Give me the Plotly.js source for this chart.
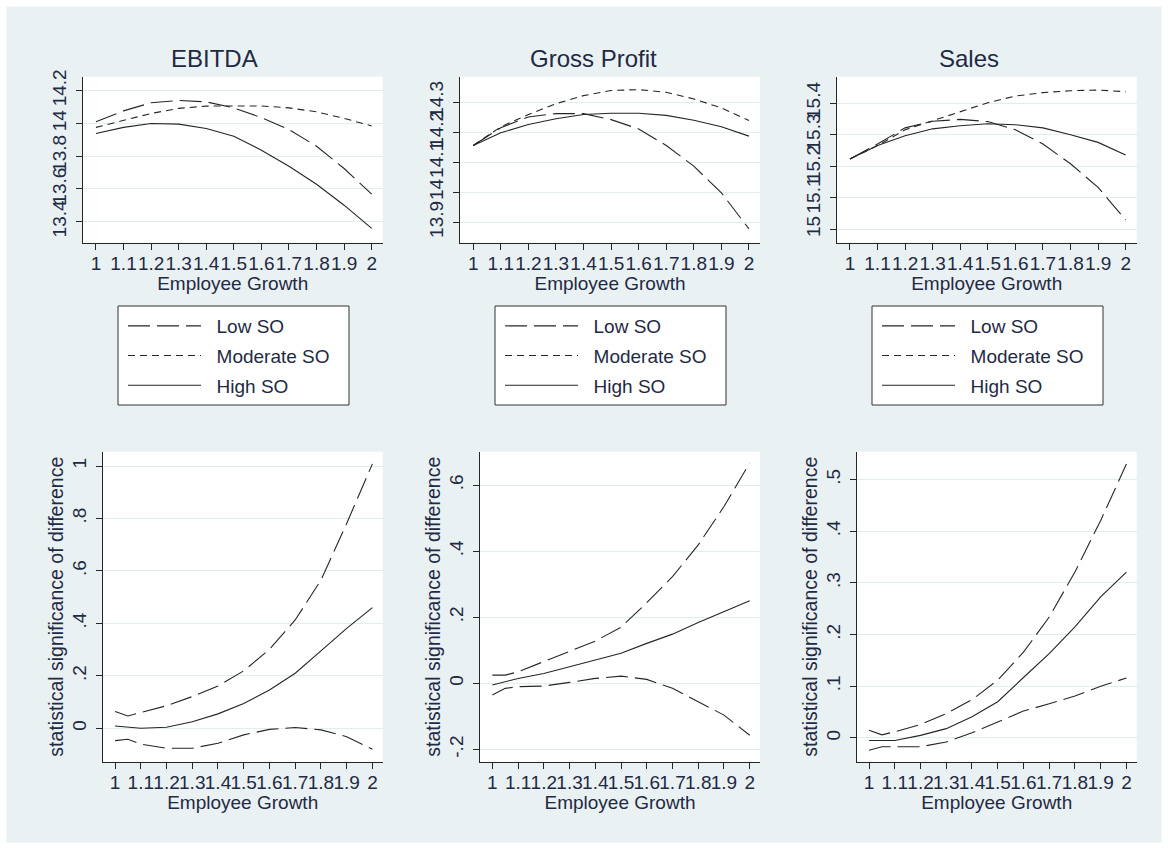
<!DOCTYPE html>
<html>
<head>
<meta charset="utf-8">
<script src="https://cdn.plot.ly/plotly-3.0.1.min.js"></script>
<style>html,body{margin:0;padding:0;background:#fff;}#chart{width:1168px;height:849px;}</style>
</head>
<body>
<div id="chart"></div>
<script>
// ---------- data ----------
const panelTitles = ["EBITDA", "Gross Profit", "Sales"];
const seriesNames = ["Low SO", "Moderate SO", "High SO"];
const xTitle = "Employee Growth";
const yTitleBottom = "statistical significance of difference";

const xTop = [1, 1.1, 1.2, 1.3, 1.4, 1.5, 1.6, 1.7, 1.8, 1.9, 2];
const xTickVals = [1, 1.1, 1.2, 1.3, 1.4, 1.5, 1.6, 1.7, 1.8, 1.9, 2];
const xTickText = ["1", "1.1", "1.2", "1.3", "1.4", "1.5", "1.6", "1.7", "1.8", "1.9", "2"];

// EBITDA (top)
const ebitdaLow  = [14.010, 14.077, 14.126, 14.140, 14.132, 14.095, 14.036, 13.963, 13.861, 13.725, 13.568];
const ebitdaMod  = [13.976, 14.020, 14.061, 14.092, 14.106, 14.107, 14.107, 14.095, 14.071, 14.031, 13.985];
const ebitdaHigh = [13.939, 13.976, 14.000, 13.996, 13.969, 13.922, 13.837, 13.739, 13.629, 13.501, 13.359];
const ebitdaTicks = [13.4, 13.6, 13.8, 14, 14.2];
const ebitdaTickText = ["13.4", "13.6", "13.8", "14", "14.2"];

// Gross Profit (top)
const gpLow  = [14.156, 14.215, 14.251, 14.262, 14.262, 14.242, 14.211, 14.156, 14.087, 13.998, 13.878];
const gpMod  = [14.156, 14.218, 14.259, 14.295, 14.322, 14.339, 14.342, 14.333, 14.311, 14.281, 14.239];
const gpHigh = [14.156, 14.198, 14.226, 14.245, 14.259, 14.263, 14.263, 14.256, 14.240, 14.218, 14.187];
const gpTicks = [13.9, 14, 14.1, 14.2, 14.3];
const gpTickText = ["13.9", "14", "14.1", "14.2", "14.3"];

// Sales (top)
const salesLow  = [15.223, 15.271, 15.322, 15.343, 15.349, 15.342, 15.316, 15.271, 15.208, 15.133, 15.030];
const salesMod  = [15.223, 15.266, 15.316, 15.345, 15.374, 15.402, 15.423, 15.434, 15.440, 15.442, 15.437];
const salesHigh = [15.223, 15.266, 15.297, 15.319, 15.329, 15.335, 15.332, 15.322, 15.300, 15.276, 15.236];
const salesTicks = [15, 15.1, 15.2, 15.3, 15.4];
const salesTickText = ["15", "15.1", "15.2", "15.3", "15.4"];

// Bottom: difference and confidence bounds
const xBottom = [1, 1.05, 1.1, 1.2, 1.3, 1.4, 1.5, 1.6, 1.7, 1.8, 1.9, 2];

const ebitdaDiffUp  = [0.064, 0.047, 0.060, 0.086, 0.121, 0.161, 0.219, 0.301, 0.413, 0.565, 0.781, 1.008];
const ebitdaDiff    = [0.009, 0.004, 0.000, 0.004, 0.025, 0.055, 0.095, 0.146, 0.210, 0.295, 0.381, 0.460];
const ebitdaDiffLo  = [-0.047, -0.042, -0.060, -0.076, -0.076, -0.057, -0.025, -0.004, 0.003, -0.006, -0.032, -0.080];
const ebitdaDiffTicks = [0, 0.2, 0.4, 0.6, 0.8, 1];
const ebitdaDiffTickText = ["0", ".2", ".4", ".6", ".8", "1"];

const gpDiffUp  = [0.025, 0.025, 0.035, 0.066, 0.099, 0.128, 0.170, 0.244, 0.323, 0.419, 0.535, 0.667];
const gpDiff    = [-0.005, 0.005, 0.015, 0.030, 0.050, 0.071, 0.091, 0.121, 0.149, 0.184, 0.217, 0.250];
const gpDiffLo  = [-0.035, -0.015, -0.010, -0.008, 0.003, 0.015, 0.022, 0.012, -0.015, -0.056, -0.096, -0.157];
const gpDiffTicks = [-0.2, 0, 0.2, 0.4, 0.6];
const gpDiffTickText = ["-.2", "0", ".2", ".4", ".6"];

const salesDiffUp  = [0.015, 0.006, 0.012, 0.026, 0.047, 0.074, 0.112, 0.166, 0.234, 0.321, 0.421, 0.530];
const salesDiff    = [-0.005, -0.005, -0.005, 0.005, 0.018, 0.041, 0.070, 0.117, 0.163, 0.215, 0.273, 0.321];
const salesDiffLo  = [-0.024, -0.017, -0.017, -0.017, -0.008, 0.010, 0.031, 0.052, 0.066, 0.081, 0.100, 0.116];
const salesDiffTicks = [0, 0.1, 0.2, 0.3, 0.4, 0.5];
const salesDiffTickText = ["0", ".1", ".2", ".3", ".4", ".5"];

// ---------- styling ----------
const W = 1168, H = 849;
const TXT = "#1f2a44";
const LINE = "#262626";
const BG = "#EAF1F3";
const GRID = "#E3ECEF";
const FONT = "Liberation Sans, Arial, sans-serif";
const dashLong = "22px,7px";
const dashShort = "7px,5px";
const dashes = [dashLong, dashShort, "solid"];
const NB = "\u00A0\u00A0";

const px = v => v / W;
const py = v => 1 - v / H;

const traces = [];
const topSets = [
  [ebitdaLow, ebitdaMod, ebitdaHigh],
  [gpLow, gpMod, gpHigh],
  [salesLow, salesMod, salesHigh]
];
const legendIds = ["legend", "legend2", "legend3"];
topSets.forEach((set, p) => {
  set.forEach((ys, s) => {
    traces.push({
      type: "scatter", mode: "lines",
      x: xTop, y: ys,
      xaxis: "x" + (p === 0 ? "" : p + 1),
      yaxis: "y" + (p === 0 ? "" : p + 1),
      name: NB + seriesNames[s],
      legend: legendIds[p],
      legendgroup: "g" + p + "_" + s,
      line: {color: LINE, width: 1.1, dash: dashes[s]},
      hoverinfo: "x+y"
    });
  });
});
const bottomSets = [
  [ebitdaDiffUp, ebitdaDiff, ebitdaDiffLo],
  [gpDiffUp, gpDiff, gpDiffLo],
  [salesDiffUp, salesDiff, salesDiffLo]
];
const bottomDash = [dashLong, "solid", dashLong];
bottomSets.forEach((set, p) => {
  set.forEach((ys, s) => {
    traces.push({
      type: "scatter", mode: "lines",
      x: xBottom, y: ys,
      xaxis: "x" + (p + 4),
      yaxis: "y" + (p + 4),
      showlegend: false,
      line: {color: LINE, width: 1.1, dash: bottomDash[s]},
      hoverinfo: "x+y"
    });
  });
});

const xRange = [0.952, 2.04];
function xAxis(domain, yref) {
  return {
    domain: domain, range: xRange, anchor: yref,
    tickmode: "array", tickvals: xTickVals, ticktext: xTickText, tickangle: 0,
    showgrid: false, zeroline: false,
    showline: true, linecolor: LINE, linewidth: 1,
    ticks: "outside", ticklen: 6, tickcolor: LINE, tickwidth: 1,
    ticklabelstandoff: -3,
    tickfont: {family: FONT, size: 19, color: TXT},
    title: {text: xTitle, font: {family: FONT, size: 19, color: TXT}, standoff: 1},
    automargin: false, fixedrange: true
  };
}
function yAxis(domain, xref, range, tv, tt, title) {
  return {
    domain: domain, range: range, anchor: xref,
    tickmode: "array", tickvals: tv, ticktext: tt, tickangle: -90,
    showgrid: true, gridcolor: GRID, gridwidth: 1, zeroline: false,
    showline: true, linecolor: LINE, linewidth: 1,
    ticks: "outside", ticklen: 6, tickcolor: LINE, tickwidth: 1,
    ticklabelstandoff: 2,
    tickfont: {family: FONT, size: 19, color: TXT},
    title: {text: title || "", font: {family: FONT, size: 19.5, color: TXT}, standoff: 0},
    automargin: false, fixedrange: true
  };
}

const topY = [py(242.7), py(76.7)];
const botY = [py(761.7), py(451.7)];

const legendBase = {
  bgcolor: "rgba(0,0,0,0)", borderwidth: 0,
  font: {family: FONT, size: 19, color: TXT},
  orientation: "v", xanchor: "left", yanchor: "top",
  itemwidth: 73, tracegroupgap: 2, traceorder: "grouped",
  itemclick: false, itemdoubleclick: false
};
const legendBoxes = [[118, 349], [495, 726], [872, 1103]];

const shapes = [
  {type: "rect", xref: "paper", yref: "paper", x0: 0, x1: 1, y0: 0, y1: 1,
   line: {color: "#ffffff", width: 13}, fillcolor: "rgba(0,0,0,0)", layer: "above"}
];
legendBoxes.forEach(b => {
  shapes.push({type: "rect", xref: "paper", yref: "paper",
    x0: px(b[0]), x1: px(b[1]), y0: py(405), y1: py(306),
    line: {color: "#333333", width: 1}, fillcolor: "#ffffff", layer: "above"});
});

const annotations = panelTitles.map((t, i) => ({
  text: t, xref: "paper", yref: "paper",
  x: px([214, 593, 969][i]), y: py(58), xanchor: "center", yanchor: "middle",
  showarrow: false, font: {family: FONT, size: 24, color: TXT}
}));

const layout = {
  width: W, height: H,
  margin: {l: 0, r: 0, t: 0, b: 0},
  paper_bgcolor: BG, plot_bgcolor: "#ffffff",
  font: {family: FONT, color: TXT},
  showlegend: true,
  xaxis:  xAxis([px(82.7), px(382.7)], "y"),
  xaxis2: xAxis([px(460), px(760)], "y2"),
  xaxis3: xAxis([px(836.7), px(1136.7)], "y3"),
  xaxis4: xAxis([px(102.7), px(382.7)], "y4"),
  xaxis5: xAxis([px(480), px(760)], "y5"),
  xaxis6: xAxis([px(856.7), px(1136.7)], "y6"),
  yaxis:  yAxis(topY, "x", [13.272, 14.2855], ebitdaTicks, ebitdaTickText),
  yaxis2: yAxis(topY, "x2", [13.832, 14.385], gpTicks, gpTickText),
  yaxis3: yAxis(topY, "x3", [14.9575, 15.4845], salesTicks, salesTickText),
  yaxis4: yAxis(botY, "x4", [-0.1273, 1.0545], ebitdaDiffTicks, ebitdaDiffTickText, yTitleBottom),
  yaxis5: yAxis(botY, "x5", [-0.237, 0.701], gpDiffTicks, gpDiffTickText, yTitleBottom),
  yaxis6: yAxis(botY, "x6", [-0.046, 0.554], salesDiffTicks, salesDiffTickText, yTitleBottom),
  legend:  Object.assign({}, legendBase, {x: px(123), y: py(307)}),
  legend2: Object.assign({}, legendBase, {x: px(500), y: py(307)}),
  legend3: Object.assign({}, legendBase, {x: px(877), y: py(307)}),
  shapes: shapes,
  annotations: annotations,
  hovermode: "closest"
};

Plotly.newPlot("chart", traces, layout, {displayModeBar: false, responsive: false});
</script>
</body>
</html>
